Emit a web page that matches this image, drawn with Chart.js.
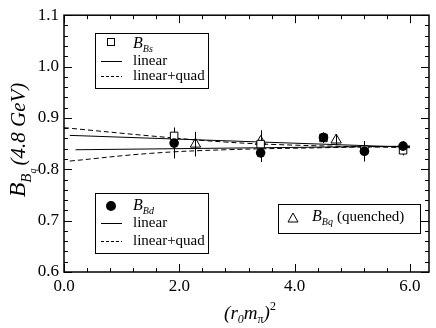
<!DOCTYPE html>
<html>
<head>
<meta charset="utf-8">
<script src="https://cdn.jsdelivr.net/npm/chart.js@4"></script>
<style>
  html, body { margin: 0; padding: 0; background: #fff; }
  #wrap { width: 436px; height: 328px; }
</style>
</head>
<body>
<div id="wrap"><canvas id="myChart" width="436" height="328"></canvas></div>
<script>
// values
const xTicks = [0, 2, 4, 6];
const yTicks = [0.6, 0.7, 0.8, 0.9, 1.0, 1.1];

const bsX = [1.91, 3.41, 4.5, 5.21, 5.88];
const bsY = [0.865, 0.849, 0.861, 0.838, 0.837];
const bsErr = [0.016, 0.02, 0.01, 0.014, 0.01];

const bdX = [1.91, 3.41, 4.5, 5.21, 5.88];
const bdY = [0.851, 0.832, 0.862, 0.835, 0.845];
const bdErr = [0.03, 0.018, 0.01, 0.02, 0.01];

const bqX = [2.28, 3.41, 4.72];
const bqY = [0.849, 0.854, 0.857];
const bqErr = [0.024, 0.022, 0.01];

// fit curves (read at a few x positions)
const bsLinX = [0.1, 6.0];
const bsLinY = [0.866, 0.843];
const bdLinX = [0.2, 6.0];
const bdLinY = [0.838, 0.845];
const bsQuadX = [0.0, 1.5, 2.8, 4.0, 6.0];
const bsQuadY = [0.881, 0.865, 0.853, 0.847, 0.842];
const bdQuadX = [0.1, 1.5, 2.8, 4.5, 6.0];
const bdQuadY = [0.816, 0.831, 0.838, 0.842, 0.845];

const pts = (xs, ys) => xs.map((x, i) => ({ x: x, y: ys[i] }));
const SERIF = '"Liberation Serif", "DejaVu Serif", serif';

function rich(ctx, parts, cx, cy) {
  let w = 0;
  parts.forEach(p => { ctx.font = p.f; w += ctx.measureText(p.t).width + (p.gap || 0); });
  let x = cx - w / 2;
  parts.forEach(p => {
    ctx.font = p.f;
    x += p.gap || 0;
    ctx.fillText(p.t, x, cy + (p.dy || 0));
    x += ctx.measureText(p.t).width;
  });
}

function richLeft(ctx, parts, x, y) {
  parts.forEach(p => {
    ctx.font = p.f;
    x += p.gap || 0;
    ctx.fillText(p.t, x, y + (p.dy || 0));
    x += ctx.measureText(p.t).width;
  });
}

const errorBars = {
  id: 'errorBars',
  beforeDatasetsDraw(chart) {
    const ctx = chart.ctx, xs = chart.scales.x, ys = chart.scales.y;
    ctx.save();
    ctx.strokeStyle = '#000';
    ctx.lineWidth = 1;
    [[bsX, bsY, bsErr], [bdX, bdY, bdErr], [bqX, bqY, bqErr]].forEach(s => {
      s[0].forEach((x, i) => {
        const px = Math.round(xs.getPixelForValue(x)) + 0.5;
        ctx.beginPath();
        ctx.moveTo(px, ys.getPixelForValue(s[1][i] + s[2][i]));
        ctx.lineTo(px, ys.getPixelForValue(s[1][i] - s[2][i]));
        ctx.stroke();
      });
    });
    ctx.restore();
  }
};

const frame = {
  id: 'frame',
  afterDraw(chart) {
    const ctx = chart.ctx, a = chart.chartArea, xs = chart.scales.x, ys = chart.scales.y;
    ctx.save();
    ctx.strokeStyle = '#000';
    ctx.lineWidth = 1.5;
    ctx.strokeRect(a.left, a.top, a.right - a.left, a.bottom - a.top);
    ctx.lineWidth = 1;
    ctx.beginPath();
    for (let v = 0; v <= 6.33; v += 0.4) {
      const px = Math.round(xs.getPixelForValue(v)) + 0.5;
      const major = Math.abs(v / 2 - Math.round(v / 2)) < 0.01;
      const len = major ? 8 : 4;
      ctx.moveTo(px, a.bottom); ctx.lineTo(px, a.bottom - len);
      ctx.moveTo(px, a.top); ctx.lineTo(px, a.top + len);
    }
    for (let v = 0.6; v <= 1.101; v += 0.02) {
      const py = Math.round(ys.getPixelForValue(v)) + 0.5;
      const major = Math.abs(v * 10 - Math.round(v * 10)) < 0.01;
      const len = major ? 8 : 4;
      ctx.moveTo(a.left, py); ctx.lineTo(a.left + len, py);
      ctx.moveTo(a.right, py); ctx.lineTo(a.right - len, py);
    }
    ctx.stroke();

    // legend boxes
    ctx.fillStyle = '#000';
    ctx.textBaseline = 'middle';
    ctx.textAlign = 'left';
    const box = (x, y, w, h) => { ctx.lineWidth = 1; ctx.strokeRect(x + 0.5, y + 0.5, w, h); };
    const line = (x, y, dash) => {
      ctx.setLineDash(dash ? [3, 2] : []);
      ctx.beginPath(); ctx.moveTo(x, y + 0.5); ctx.lineTo(x + 21, y + 0.5); ctx.stroke();
      ctx.setLineDash([]);
    };
    const big = 'italic 16px ' + SERIF, sub = 'italic 10px ' + SERIF, txt = '15px ' + SERIF;

    box(95, 33, 113, 55);
    ctx.strokeRect(107.5, 38.5, 7, 7);
    richLeft(ctx, [{ t: 'B', f: big }, { t: 'Bs', f: sub, dy: 5 }], 133, 44);
    line(101, 61); ctx.font = txt; ctx.fillText('linear', 133, 61);
    line(101, 76, true); ctx.font = txt; ctx.fillText('linear+quad', 133, 76);

    box(95, 193, 113, 60);
    ctx.beginPath(); ctx.arc(111, 206, 5, 0, Math.PI * 2); ctx.fill();
    richLeft(ctx, [{ t: 'B', f: big }, { t: 'Bd', f: sub, dy: 5 }], 133, 206);
    line(101, 223); ctx.font = txt; ctx.fillText('linear', 133, 223);
    line(101, 241, true); ctx.font = txt; ctx.fillText('linear+quad', 133, 241);

    box(278, 204, 142, 29);
    ctx.beginPath(); ctx.moveTo(293, 213); ctx.lineTo(298, 222); ctx.lineTo(288, 222); ctx.closePath(); ctx.stroke();
    richLeft(ctx, [{ t: 'B', f: big }, { t: 'Bq', f: sub, dy: 5 }, { t: '(quenched)', f: txt, gap: 4 }], 312, 217);

    // axis titles
    ctx.textBaseline = 'alphabetic';
    rich(ctx, [
      { t: '(r', f: 'italic 19px ' + SERIF },
      { t: '0', f: 'italic 12px ' + SERIF, dy: 4 },
      { t: 'm', f: 'italic 19px ' + SERIF },
      { t: 'π', f: '12px ' + SERIF, dy: 4 },
      { t: ')', f: 'italic 19px ' + SERIF },
      { t: '2', f: '12px ' + SERIF, dy: -9 }
    ], 250, 319);

    ctx.translate(25, 140);
    ctx.rotate(-Math.PI / 2);
    rich(ctx, [
      { t: 'B', f: 'italic 24px ' + SERIF },
      { t: 'B', f: 'italic 15px ' + SERIF, dy: 6 },
      { t: 'q', f: 'italic 10px ' + SERIF, dy: 11 },
      { t: '(4.8 GeV)', f: 'italic 21px ' + SERIF, gap: 3 }
    ], 0, 0);
    ctx.restore();
  }
};

const ctx = document.getElementById('myChart');
new Chart(ctx, {
  type: 'scatter',
  data: {
    datasets: [
      { label: 'B_Bd', data: pts(bdX, bdY), pointStyle: 'circle', pointRadius: 4.8, backgroundColor: '#000', borderColor: '#000', borderWidth: 0 },
      { label: 'B_Bs', data: pts(bsX, bsY), pointStyle: 'rect', pointRadius: 5.3, backgroundColor: '#fff', borderColor: '#000', borderWidth: 1 },
      { label: 'B_Bq', data: pts(bqX, bqY), pointStyle: 'triangle', pointRadius: 6, backgroundColor: 'rgba(0,0,0,0)', borderColor: '#000', borderWidth: 1 },
      { label: 'Bs linear', data: pts(bsLinX, bsLinY), showLine: true, pointRadius: 0, borderColor: '#000', borderWidth: 1 },
      { label: 'Bd linear', data: pts(bdLinX, bdLinY), showLine: true, pointRadius: 0, borderColor: '#000', borderWidth: 1 },
      { label: 'Bs quad', data: pts(bsQuadX, bsQuadY), showLine: true, pointRadius: 0, borderColor: '#000', borderWidth: 1, borderDash: [5, 3], tension: 0.4 },
      { label: 'Bd quad', data: pts(bdQuadX, bdQuadY), showLine: true, pointRadius: 0, borderColor: '#000', borderWidth: 1, borderDash: [5, 3], tension: 0.4 }
    ]
  },
  options: {
    responsive: false,
    animation: false,
    layout: { padding: { top: 8, right: 4, left: 0, bottom: 0 } },
    plugins: { legend: { display: false }, tooltip: { enabled: false } },
    scales: {
      x: {
        type: 'linear', min: 0, max: 6.33,
        grid: { display: false, drawTicks: false }, border: { display: false },
        afterBuildTicks(s) { s.ticks = xTicks.map(v => ({ value: v })); },
        afterFit(s) { s.height = 56; },
        ticks: { color: '#000', padding: 4, maxRotation: 0, font: { family: SERIF, size: 17 }, callback: v => v.toFixed(1) }
      },
      y: {
        min: 0.6, max: 1.1,
        grid: { display: false, drawTicks: false }, border: { display: false },
        afterBuildTicks(s) { s.ticks = yTicks.map(v => ({ value: v })); },
        afterFit(s) { s.width = 64; },
        ticks: { color: '#000', padding: 5, font: { family: SERIF, size: 17 }, callback: v => v.toFixed(1) }
      }
    }
  },
  plugins: [errorBars, frame]
});
</script>
</body>
</html>
